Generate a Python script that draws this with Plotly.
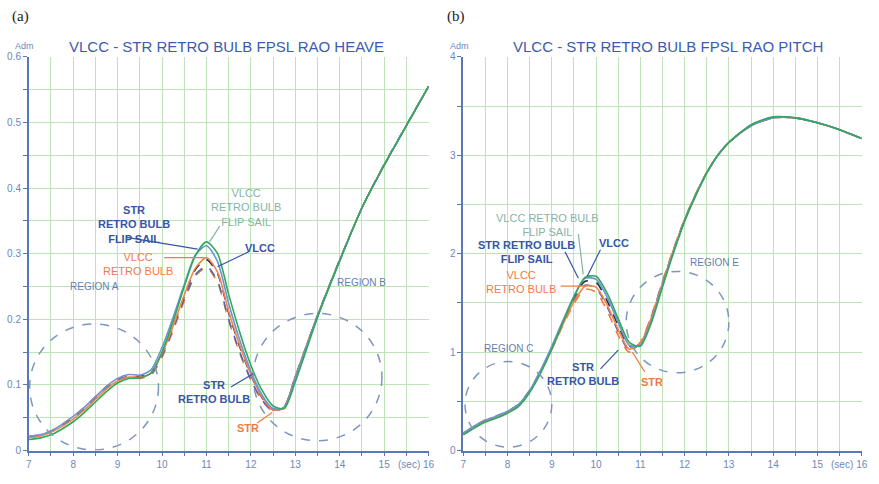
import plotly.graph_objects as go

# ---------------- data ----------------
PERIOD = [7, 7.25, 7.5, 7.75, 8, 8.25, 8.5, 8.75, 9, 9.25, 9.5, 9.75, 10, 10.25, 10.5,
          10.75, 11, 11.25, 11.5, 11.75, 12, 12.25, 12.5, 12.75, 13, 13.5, 14, 14.5, 15, 15.5, 16]

SERIES_NAMES = ["VLCC", "STR", "STR RETRO BULB", "VLCC RETRO BULB",
                "STR RETRO BULB FLIP SAIL", "VLCC RETRO BULB FLIP SAIL"]

HEAVE_VLCC = [0.021, 0.023, 0.029, 0.038, 0.049, 0.063, 0.079, 0.095, 0.107, 0.113, 0.113, 0.119, 0.147, 0.188, 0.235,
              0.276, 0.291, 0.270, 0.210, 0.158, 0.115, 0.081, 0.062, 0.067, 0.113, 0.206, 0.291, 0.370, 0.436, 0.496, 0.555]
HEAVE_STR = [0.021, 0.024, 0.030, 0.040, 0.052, 0.066, 0.082, 0.098, 0.108, 0.112, 0.110, 0.115, 0.142, 0.183, 0.228,
             0.266, 0.279, 0.256, 0.198, 0.148, 0.107, 0.076, 0.060, 0.066, 0.113, 0.206, 0.290, 0.370, 0.435, 0.495, 0.555]
HEAVE_STR_RB = [0.021, 0.023, 0.029, 0.039, 0.051, 0.065, 0.081, 0.097, 0.108, 0.113, 0.111, 0.116, 0.144, 0.186, 0.231,
                0.268, 0.281, 0.258, 0.200, 0.150, 0.108, 0.077, 0.061, 0.066, 0.112, 0.205, 0.290, 0.370, 0.435, 0.495, 0.555]
HEAVE_VLCC_RB = [0.020, 0.022, 0.028, 0.037, 0.048, 0.062, 0.078, 0.094, 0.106, 0.112, 0.112, 0.118, 0.148, 0.190, 0.237,
                 0.278, 0.294, 0.272, 0.212, 0.160, 0.116, 0.082, 0.062, 0.066, 0.112, 0.205, 0.290, 0.370, 0.435, 0.495, 0.555]
HEAVE_STR_RB_FS = [0.022, 0.024, 0.030, 0.040, 0.052, 0.066, 0.082, 0.098, 0.110, 0.116, 0.115, 0.123, 0.157, 0.203, 0.253,
                   0.298, 0.312, 0.288, 0.224, 0.168, 0.121, 0.085, 0.064, 0.066, 0.111, 0.205, 0.290, 0.370, 0.435, 0.495, 0.555]
HEAVE_VLCC_RB_FS = [0.017, 0.019, 0.024, 0.033, 0.044, 0.058, 0.074, 0.090, 0.103, 0.110, 0.111, 0.118, 0.150, 0.197, 0.250,
                    0.297, 0.318, 0.300, 0.238, 0.180, 0.130, 0.092, 0.068, 0.064, 0.105, 0.203, 0.289, 0.370, 0.435, 0.495, 0.555]

PITCH_VLCC = [0.17, 0.24, 0.30, 0.34, 0.39, 0.46, 0.60, 0.80, 1.04, 1.30, 1.55, 1.72, 1.71, 1.52, 1.27,
              1.06, 1.08, 1.34, 1.69, 2.03, 2.34, 2.60, 2.82, 3.00, 3.13, 3.30, 3.38, 3.38, 3.33, 3.26, 3.17]
PITCH_STR = [0.17, 0.25, 0.31, 0.35, 0.40, 0.47, 0.61, 0.81, 1.03, 1.27, 1.49, 1.64, 1.61, 1.42, 1.17,
             1.00, 1.10, 1.37, 1.72, 2.05, 2.35, 2.61, 2.83, 3.00, 3.13, 3.30, 3.38, 3.38, 3.33, 3.26, 3.17]
PITCH_STR_RB = [0.17, 0.24, 0.30, 0.35, 0.40, 0.47, 0.61, 0.81, 1.04, 1.29, 1.52, 1.68, 1.65, 1.46, 1.21,
                1.02, 1.09, 1.36, 1.71, 2.04, 2.35, 2.60, 2.82, 3.00, 3.13, 3.30, 3.38, 3.38, 3.33, 3.26, 3.17]
PITCH_VLCC_RB = [0.17, 0.24, 0.30, 0.34, 0.39, 0.46, 0.60, 0.80, 1.03, 1.28, 1.51, 1.67, 1.66, 1.48, 1.23,
                 1.03, 1.09, 1.35, 1.70, 2.04, 2.34, 2.60, 2.82, 3.00, 3.13, 3.30, 3.38, 3.38, 3.33, 3.26, 3.17]
PITCH_STR_RB_FS = [0.18, 0.25, 0.31, 0.35, 0.40, 0.47, 0.61, 0.82, 1.06, 1.32, 1.57, 1.75, 1.74, 1.56, 1.30,
                   1.07, 1.07, 1.32, 1.68, 2.02, 2.33, 2.59, 2.82, 3.00, 3.13, 3.30, 3.38, 3.38, 3.33, 3.26, 3.17]
PITCH_VLCC_RB_FS = [0.16, 0.23, 0.29, 0.33, 0.38, 0.45, 0.59, 0.79, 1.03, 1.30, 1.56, 1.76, 1.77, 1.60, 1.34,
                    1.10, 1.06, 1.30, 1.66, 2.01, 2.33, 2.59, 2.82, 3.00, 3.13, 3.31, 3.39, 3.38, 3.33, 3.26, 3.17]

HEAVE = [HEAVE_VLCC, HEAVE_STR, HEAVE_STR_RB, HEAVE_VLCC_RB, HEAVE_STR_RB_FS, HEAVE_VLCC_RB_FS]
PITCH = [PITCH_VLCC, PITCH_STR, PITCH_STR_RB, PITCH_VLCC_RB, PITCH_STR_RB_FS, PITCH_VLCC_RB_FS]

X_TICKS = [7, 8, 9, 10, 11, 12, 13, 14, 15, 16]
HEAVE_TICKS = [0, 0.1, 0.2, 0.3, 0.4, 0.5, 0.6]
PITCH_TICKS = [0, 1, 2, 3, 4]

TITLES = ["VLCC - STR RETRO BULB FPSL RAO HEAVE", "VLCC - STR RETRO BULB FPSL RAO PITCH"]
PANELS = ["(a)", "(b)"]

# regions: name, center x, center y, radius x, radius y
HEAVE_REGIONS = [("REGION A", 8.47, 0.097, 1.45, 0.096), ("REGION B", 13.5, 0.112, 1.45, 0.097)]
PITCH_REGIONS = [("REGION C", 8.02, 0.47, 0.98, 0.435), ("REGION E", 11.84, 1.305, 1.16, 0.515)]

# ---------------- styles ----------------
STYLE = {
    "VLCC": dict(color="#1f2a4e", dash="dash"),
    "STR": dict(color="#f47a3c", dash="dash"),
    "STR RETRO BULB": dict(color="#4f6bb0", dash="dash"),
    "VLCC RETRO BULB": dict(color="#f4844a", dash="solid"),
    "STR RETRO BULB FLIP SAIL": dict(color="#6f92d6", dash="solid"),
    "VLCC RETRO BULB FLIP SAIL": dict(color="#2fa85a", dash="solid"),
}
AXIS_BLUE = "#5878b8"
GRID_GREEN = "#bfe3b8"
TICK_TXT = "#6d88bd"
BLUE_TXT = "#3556a8"
GREEN_TXT = "#86b4a4"
ORANGE_TXT = "#f27a45"
REGION_TXT = "#5f7fb2"
CIRCLE = "#7e96bf"
FONT = "Liberation Sans, Arial, sans-serif"

fig = go.Figure()

for i, name in enumerate(SERIES_NAMES):
    st = STYLE[name]
    fig.add_trace(go.Scatter(x=PERIOD, y=HEAVE[i], mode="lines", name=name,
                             line=dict(color=st["color"], dash=st["dash"], width=1.6, shape="spline", smoothing=0.7),
                             xaxis="x", yaxis="y", showlegend=False))
    fig.add_trace(go.Scatter(x=PERIOD, y=PITCH[i], mode="lines", name=name,
                             line=dict(color=st["color"], dash=st["dash"], width=1.6, shape="spline", smoothing=0.7),
                             xaxis="x2", yaxis="y2", showlegend=False))

YDOM = [0.0579, 0.8905]


def xaxis(domain):
    return dict(domain=domain, range=[7, 16], tickvals=X_TICKS, showgrid=True, gridcolor=GRID_GREEN, gridwidth=1,
                showline=True, linecolor=AXIS_BLUE, linewidth=1.5, ticks="outside", ticklen=4, tickcolor=AXIS_BLUE,
                tickfont=dict(family=FONT, size=10, color=TICK_TXT), zeroline=False, fixedrange=True,
                minor=dict(dtick=0.5, tick0=7, ticks="outside", ticklen=4, tickcolor=AXIS_BLUE,
                           showgrid=True, gridcolor=GRID_GREEN, gridwidth=1))


def yaxis(rng, ticks, minor_dt, anchor):
    return dict(domain=YDOM, range=rng, tickvals=ticks, showgrid=True, gridcolor=GRID_GREEN, gridwidth=1,
                showline=True, linecolor=AXIS_BLUE, linewidth=1.5, ticks="outside", ticklen=4, tickcolor=AXIS_BLUE,
                tickfont=dict(family=FONT, size=10, color=TICK_TXT), zeroline=False, anchor=anchor, fixedrange=True,
                minor=dict(dtick=minor_dt, tick0=0, ticks="outside", ticklen=4, tickcolor=AXIS_BLUE,
                           showgrid=True, gridcolor=GRID_GREEN, gridwidth=1))


fig.update_layout(
    autosize=True, margin=dict(l=0, r=0, t=0, b=0),
    paper_bgcolor="white", plot_bgcolor="white",
    xaxis=xaxis([0.0296, 0.4892]), yaxis=yaxis([0, 0.6], HEAVE_TICKS, 0.05, "x"),
    xaxis2=xaxis([0.529, 0.987]), yaxis2=yaxis([0, 4], PITCH_TICKS, 0.5, "x2"),
)
fig.layout.xaxis.anchor = "y"
fig.layout.xaxis2.anchor = "y2"

annotations = []
shapes = []

# panel letters, titles, units, (sec)
for k, (xr, yr, tx) in enumerate([("x", "y", 0.257), ("x2", "y2", 0.764)]):
    annotations.append(dict(text=TITLES[k], xref="paper", yref="paper", x=tx, y=0.913, showarrow=False,
                            font=dict(family=FONT, size=15, color="#3a5bb0"), xanchor="center", yanchor="middle"))
    annotations.append(dict(text=PANELS[k], xref="paper", yref="paper", x=[0.008, 0.508][k], y=0.975,
                            showarrow=False, font=dict(family="Liberation Serif, Times New Roman, serif", size=15,
                                                       color="#222222"), xanchor="left", yanchor="middle"))
    annotations.append(dict(text="Adm", xref="paper", yref="paper", x=[0.012, 0.511][k], y=0.913, showarrow=False,
                            font=dict(family=FONT, size=9, color=TICK_TXT), xanchor="left", yanchor="middle"))
    annotations.append(dict(text="(sec)", xref=xr, yref="paper", x=15.55, y=0.029, showarrow=False,
                            font=dict(family=FONT, size=10, color=TICK_TXT), xanchor="center", yanchor="middle"))

# region circles
for regs, xr, yr in [(HEAVE_REGIONS, "x", "y"), (PITCH_REGIONS, "x2", "y2")]:
    for name, cx, cy, rx, ry in regs:
        shapes.append(dict(type="circle", xref=xr, yref=yr, x0=cx - rx, x1=cx + rx, y0=cy - ry, y1=cy + ry,
                           line=dict(color=CIRCLE, width=1.5, dash="dash"), layer="above"))

# region label positions
REGION_LABEL_POS = {"REGION A": (8.47, 0.25), "REGION B": (14.5, 0.256),
                    "REGION C": (8.02, 1.04), "REGION E": (12.67, 1.91)}
for regs, xr, yr in [(HEAVE_REGIONS, "x", "y"), (PITCH_REGIONS, "x2", "y2")]:
    for name, *_ in regs:
        px, py = REGION_LABEL_POS[name]
        annotations.append(dict(text=name, xref=xr, yref=yr, x=px, y=py, showarrow=False,
                                font=dict(family=FONT, size=10, color=REGION_TXT)))

# curve labels: (panel, text, color, bold, text x, text y, line from, line to)
CURVE_LABELS = [
    ("x", "STR<br>RETRO BULB<br>FLIP SAIL", BLUE_TXT, True, 9.36, 0.345, (9.2, 0.325), (10.8, 0.307)),
    ("x", "VLCC<br>RETRO BULB<br>FLIP SAIL", GREEN_TXT, False, 11.88, 0.37, (11.3, 0.342), (11.07, 0.318)),
    ("x", "VLCC", BLUE_TXT, True, 12.2, 0.308, (11.95, 0.303), (11.25, 0.28)),
    ("x", "VLCC<br>RETRO BULB", ORANGE_TXT, False, 9.45, 0.285, (10.05, 0.294), (10.95, 0.294)),
    ("x", "STR<br>RETRO BULB", BLUE_TXT, True, 11.16, 0.09, (11.55, 0.097), (12.05, 0.117)),
    ("x", "STR", ORANGE_TXT, True, 11.94, 0.034, (12.14, 0.042), (12.48, 0.058)),
    ("x2", "VLCC RETRO BULB<br>FLIP SAIL", GREEN_TXT, False, 8.9, 2.29, (9.6, 2.2), (9.71, 1.79)),
    ("x2", "STR RETRO BULB<br>FLIP SAIL", BLUE_TXT, True, 8.42, 2.02, (9.3, 2.02), (9.6, 1.75)),
    ("x2", "VLCC", BLUE_TXT, True, 10.4, 2.11, (10.1, 2.04), (9.8, 1.77)),
    ("x2", "VLCC<br>RETRO BULB", ORANGE_TXT, False, 8.3, 1.71, (9.2, 1.67), (9.75, 1.67)),
    ("x2", "STR<br>RETRO BULB", BLUE_TXT, True, 9.7, 0.78, (10.1, 0.83), (10.5, 1.02)),
    ("x2", "STR", ORANGE_TXT, True, 11.27, 0.70, (11.1, 0.80), (10.82, 1.0)),
]
for xr, text, col, bold, tx, ty, p0, p1 in CURVE_LABELS:
    yr = "y" if xr == "x" else "y2"
    annotations.append(dict(text=f"<b>{text}</b>" if bold else text, xref=xr, yref=yr, x=tx, y=ty,
                            showarrow=False, align="center",
                            font=dict(family=FONT, size=11, color=col)))
    shapes.append(dict(type="line", xref=xr, yref=yr, x0=p0[0], y0=p0[1], x1=p1[0], y1=p1[1],
                       line=dict(color=col, width=1.2)))

fig.update_layout(annotations=annotations, shapes=shapes)
fig.write_html("out.html", default_width="100vw", default_height="100vh",
               config=dict(displayModeBar=False, responsive=True),
               post_script="document.body.style.margin='0';document.body.style.overflow='hidden';")
